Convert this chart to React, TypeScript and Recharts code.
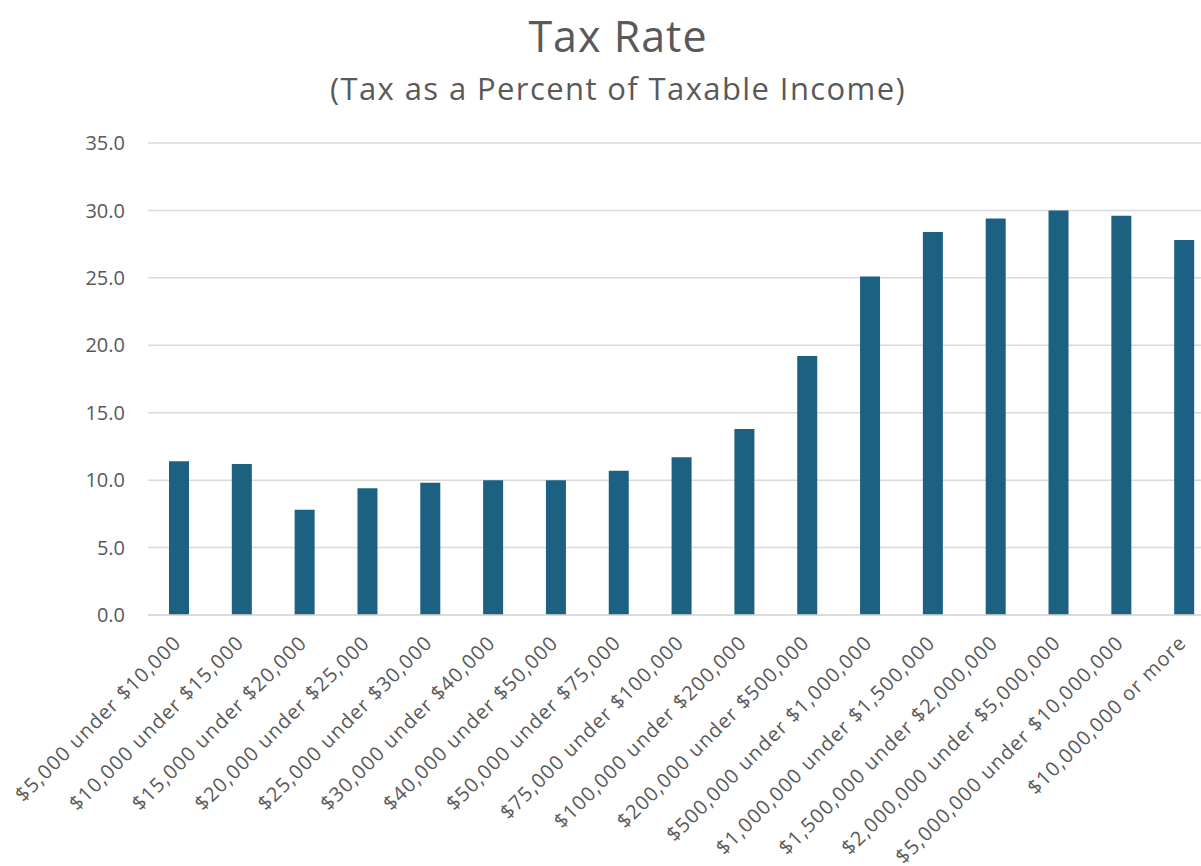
import { BarChart, Bar, XAxis, YAxis, CartesianGrid } from 'recharts';

// Income brackets (x axis)
const BRACKETS = [
  '$5,000 under $10,000',
  '$10,000 under $15,000',
  '$15,000 under $20,000',
  '$20,000 under $25,000',
  '$25,000 under $30,000',
  '$30,000 under $40,000',
  '$40,000 under $50,000',
  '$50,000 under $75,000',
  '$75,000 under $100,000',
  '$100,000 under $200,000',
  '$200,000 under $500,000',
  '$500,000 under $1,000,000',
  '$1,000,000 under $1,500,000',
  '$1,500,000 under $2,000,000',
  '$2,000,000 under $5,000,000',
  '$5,000,000 under $10,000,000',
  '$10,000,000 or more',
];

// Tax as a percent of taxable income
const TAX_RATE = [
  11.4, 11.2, 7.8, 9.4, 9.8, 10.0, 10.0, 10.7, 11.7, 13.8, 19.2, 25.1, 28.4, 29.4, 30.0, 29.6, 27.8,
];

const Y_TICKS = [0, 5, 10, 15, 20, 25, 30, 35];

const FONT = '"Open Sans", sans-serif';
const TEXT = '#595959';
const BAR = '#1c6082';

const data = BRACKETS.map((bracket, i) => ({ bracket, rate: TAX_RATE[i] }));

function AngledTick({ x, y, payload }: any) {
  const tx = x + 3;
  const ty = y + 21;
  return (
    <text
      x={tx}
      y={ty}
      transform={`rotate(-45, ${tx}, ${ty})`}
      textAnchor="end"
      fill={TEXT}
      fontSize={20}
      letterSpacing={1.1}
      fontFamily={FONT}
    >
      {payload.value}
    </text>
  );
}

export default function App() {
  return (
    <div
      style={{
        position: 'absolute',
        left: 0,
        top: 0,
        width: 1201,
        height: 866,
        overflow: 'hidden',
        background: '#fff',
        fontFamily: FONT,
      }}
    >
      <div
        style={{
          position: 'absolute',
          left: 0,
          width: 1236,
          top: 10,
          textAlign: 'center',
          fontSize: 43,
          letterSpacing: 1,
          color: TEXT,
          lineHeight: '52px',
        }}
      >
        Tax Rate
      </div>
      <div
        style={{
          position: 'absolute',
          left: 0,
          width: 1236,
          top: 68,
          textAlign: 'center',
          fontSize: 31,
          letterSpacing: 1.4,
          color: TEXT,
          lineHeight: '40px',
        }}
      >
        (Tax as a Percent of Taxable Income)
      </div>
      <BarChart
        width={1216}
        height={866}
        data={data}
        margin={{ top: 143, right: 0, left: 68, bottom: 0 }}
        barSize={20}
        style={{ position: 'absolute', left: 0, top: 0 }}
      >
        <CartesianGrid vertical={false} stroke="#d9d9d9" strokeWidth={1.5} />
        <XAxis
          dataKey="bracket"
          interval={0}
          height={251}
          axisLine={{ stroke: '#d9d9d9', strokeWidth: 1.5 }}
          tickLine={false}
          tick={<AngledTick />}
        />
        <YAxis
          domain={[0, 35]}
          ticks={Y_TICKS}
          width={80}
          axisLine={false}
          tickLine={false}
          tickMargin={17}
          tickFormatter={(v: number) => v.toFixed(1)}
          tick={{ fill: TEXT, fontSize: 20, fontFamily: FONT }}
        />
        <Bar dataKey="rate" fill={BAR} isAnimationActive={false} />
      </BarChart>
    </div>
  );
}
